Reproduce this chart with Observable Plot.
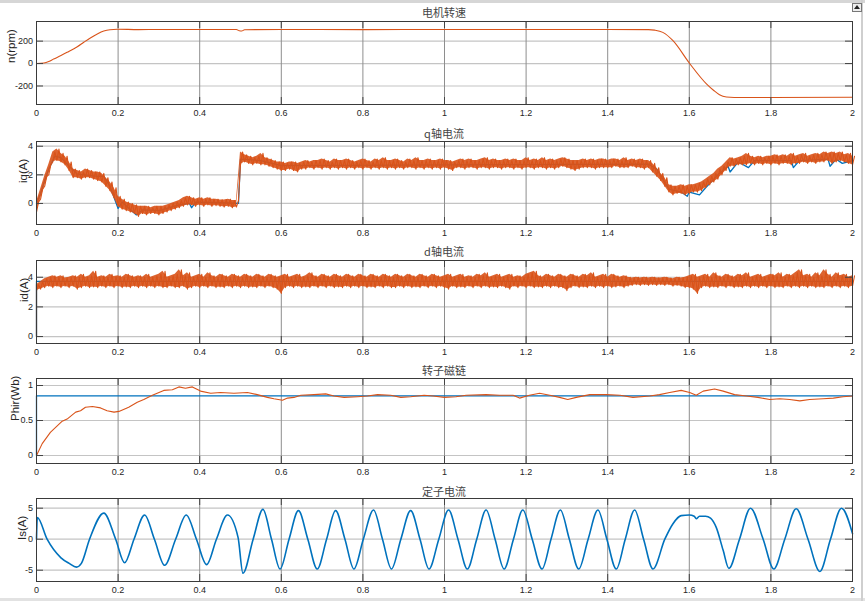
<!DOCTYPE html>
<html><head><meta charset="utf-8">
<script src="https://cdn.jsdelivr.net/npm/d3@7"></script>
<script src="https://cdn.jsdelivr.net/npm/@observablehq/plot@0.6"></script>
<style>
html,body{margin:0;padding:0;background:#fff;}
#fig{position:relative;width:865px;height:601px;background:#fff;overflow:hidden;}
.title{position:absolute;left:36px;width:816px;text-align:center;font-family:"Noto Sans CJK SC",sans-serif;font-size:11px;line-height:14px;color:#444;}
.pan{position:absolute;left:0;}
#topbar{position:absolute;left:0;top:0;width:865px;height:3px;background:#d6d6d6;}
#botbar{position:absolute;left:0;top:598px;width:865px;height:3px;background:#e2e2e2;}
#rbar{position:absolute;left:861px;top:0;width:2px;height:601px;background:#cfcfcf;}
#icon{position:absolute;left:852px;top:3px;width:8px;height:7px;border:1px solid #777;background:#eee;}
#icon:after{content:"";position:absolute;left:1px;top:1px;border-left:3px solid transparent;border-right:3px solid transparent;border-bottom:4px solid #222;}
</style>
</head><body>
<div id="fig">
<div id="topbar"></div><div id="botbar"></div><div id="rbar"></div><div id="icon"></div>
</div>
<script>
// ---------- data ----------
const titles = ["电机转速", "q轴电流", "d轴电流", "转子磁链", "定子电流"];
const yLabels = ["n(rpm)", "iq(A)", "id(A)", "Phir(Wb)", "Is(A)"];
const xTicks = [0, 0.2, 0.4, 0.6, 0.8, 1, 1.2, 1.4, 1.6, 1.8, 2];
const yTicks1 = [-200, 0, 200];
const yTicks2 = [0, 2, 4];
const yTicks3 = [0, 2, 4];
const yTicks4 = [0, 0.5, 1];
const yTicks5 = [-5, 0, 5];

// speed
const spT = [0,0.018,0.03,0.042,0.06,0.075,0.1,0.116,0.13,0.149,0.165,0.18,0.198,0.25,0.3,0.4,0.49,0.497,0.503,0.51,0.6,0.8,1.0,1.2,1.4,1.5,1.515,1.535,1.56,1.6,1.642,1.66,1.674,1.691,1.71,1.8,2.0];
const spV = [0,5,18,40,72,100,150,190,224,264,290,302,306,303,304,304,304,292,290,302,304,303,304,304,304,303,298,278,204,5,-181,-240,-278,-298,-302,-302,-301];

// sampling grid of the noisy bands (0.01 s)
const tBand = d3.range(201).map(i => i / 100);

// iq band (lower / upper edge of noisy trace)
const iqLo = [-0.6,0.3,1.2,2.0,2.9,3.0,2.9,2.7,2.3,1.8,
 1.8,1.7,1.8,1.8,1.7,1.6,1.5,1.2,0.9,0.4,
 -0.2,-0.4,-0.5,-0.6,-0.7,-0.9,-0.7,-0.8,-0.7,-0.7,
 -0.8,-0.7,-0.6,-0.5,-0.4,-0.3,-0.2,-0.1,-0.1,-0.2,
 -0.1,-0.2,-0.1,-0.2,-0.15,-0.2,-0.25,-0.2,-0.3,-0.25,
 2.7,2.9,2.8,2.7,2.8,2.7,2.7,2.6,2.5,2.4,
 2.3,2.3,2.4,2.3,2.2,2.4,2.4,2.5,2.4,2.5,
 2.4,2.5,2.4,2.5,2.4,2.5,2.4,2.5,2.4,2.5,
 2.4,2.5,2.4,2.5,2.4,2.5,2.4,2.5,2.4,2.5,
 2.4,2.5,2.5,2.4,2.5,2.4,2.5,2.4,2.5,2.4,
 2.5,2.4,2.3,2.5,2.5,2.4,2.5,2.5,2.4,2.5,
 2.5,2.4,2.5,2.5,2.4,2.5,2.5,2.4,2.5,2.4,
 2.5,2.5,2.4,2.5,2.5,2.4,2.5,2.4,2.5,2.6,
 2.5,2.4,2.3,2.4,2.5,2.5,2.5,2.4,2.5,2.5,
 2.5,2.5,2.6,2.5,2.5,2.5,2.6,2.5,2.5,2.4,
 2.5,2.2,1.9,1.6,1.2,0.8,0.6,0.7,0.7,0.6,
 0.7,0.8,0.8,0.9,1.1,1.3,1.5,1.7,2.0,2.3,
 2.6,2.6,2.7,2.7,2.7,2.8,2.7,2.8,2.7,2.8,
 2.7,2.8,2.7,2.8,2.8,2.7,2.8,2.8,2.9,2.8,
 2.9,2.8,2.9,2.9,3.0,2.8,2.9,3.0,2.9,2.8,
 2.7];
const iqHi = [0.1,1.0,1.9,2.7,3.6,3.8,3.5,3.3,2.9,2.4,
 2.3,2.2,2.4,2.3,2.2,2.2,2.1,1.8,1.5,1.1,
 0.5,0.3,0.1,0.0,-0.1,-0.2,-0.2,-0.2,-0.3,-0.2,
 -0.2,-0.2,-0.1,0.0,0.1,0.2,0.4,0.5,0.4,0.3,
 0.4,0.3,0.4,0.3,0.3,0.25,0.25,0.3,0.2,0.2,
 3.6,3.4,3.3,3.2,3.3,3.5,3.2,3.1,3.0,2.9,
 2.9,2.8,2.9,2.9,2.8,2.9,3.0,2.9,3.0,3.0,
 3.1,3.0,2.9,3.1,3.0,3.0,3.1,3.0,2.9,3.0,
 3.1,3.0,2.9,3.1,3.0,3.2,3.0,3.0,3.1,3.0,
 2.9,3.1,3.0,3.2,3.0,3.0,3.1,3.0,3.0,3.1,
 3.0,3.0,2.9,3.0,3.1,3.0,3.1,3.0,3.0,3.1,
 3.2,3.0,3.1,3.0,3.0,3.1,3.0,3.1,3.0,3.0,
 3.2,3.0,3.1,3.0,3.2,3.0,3.1,3.0,3.1,3.2,
 3.1,3.0,3.0,3.0,3.1,3.0,3.1,3.0,3.1,3.1,
 3.0,3.1,3.1,3.0,3.2,3.0,3.1,3.0,3.1,3.0,
 3.0,2.8,2.5,2.1,1.8,1.3,1.2,1.2,1.3,1.2,
 1.3,1.3,1.4,1.5,1.7,1.9,2.1,2.4,2.6,2.9,
 3.2,3.1,3.2,3.3,3.5,3.3,3.2,3.3,3.2,3.3,
 3.3,3.4,3.3,3.4,3.3,3.5,3.3,3.4,3.5,3.3,
 3.4,3.5,3.4,3.6,3.5,3.6,3.5,3.6,3.4,3.5,
 3.3];

// iq reference (blue), visible where it leaves the band
const iqRefT = [0,0.01,0.02,0.03,0.045,0.06,0.08,0.1,0.15,0.165,0.18,0.2,0.21,0.225,0.245,0.26,0.3,0.35,0.375,0.38,0.39,0.45,0.495,0.5,0.55,0.6,1.5,1.52,1.55,1.58,1.595,1.6,1.625,1.64,1.67,1.695,1.70,1.72,1.745,1.76,1.85,1.855,1.87,1.94,1.945,1.96,1.975,2.0];
const iqRefV = [0,0.7,1.6,2.4,3.3,3.2,2.6,2.05,1.9,1.9,1.2,-0.35,0.1,-0.3,-0.8,-0.45,-0.5,-0.1,0.0,-0.3,0.1,0.05,0.0,3.1,3.0,2.65,2.75,2.4,1.0,0.8,0.5,0.8,0.6,1.1,2.0,2.6,2.2,2.9,2.5,3.0,3.0,2.5,3.0,3.1,2.6,3.1,2.8,3.0];

// id band
const idLo = [3.1,3.2,3.3,3.4,3.3,3.4,3.3,3.4,3.3,3.4,
 3.2,3.3,3.4,3.3,3.35,3.3,3.4,3.3,3.4,3.3,
 3.4,3.3,3.35,3.3,3.4,3.3,3.4,3.3,3.4,3.3,
 3.4,3.3,3.3,3.4,3.3,3.3,3.4,3.2,3.3,3.4,
 3.3,3.4,3.3,3.4,3.3,3.35,3.3,3.4,3.3,3.4,
 3.3,3.4,3.3,3.35,3.3,3.4,3.3,3.4,3.3,3.2,
 2.9,3.3,3.4,3.3,3.4,3.3,3.35,3.3,3.4,3.3,
 3.4,3.3,3.4,3.3,3.35,3.3,3.4,3.3,3.4,3.3,
 3.4,3.3,3.35,3.3,3.4,3.3,3.4,3.3,3.3,3.4,
 3.3,3.4,3.3,3.35,3.3,3.4,3.3,3.4,3.3,3.4,
 3.3,3.2,3.4,3.3,3.35,3.3,3.4,3.3,3.4,3.3,
 3.4,3.3,3.35,3.3,3.4,3.3,3.2,3.4,3.3,3.4,
 3.3,3.4,3.3,3.35,3.3,3.4,3.3,3.4,3.3,3.3,
 3.1,3.3,3.4,3.3,3.35,3.3,3.4,3.3,3.4,3.3,
 3.4,3.3,3.35,3.4,3.3,3.4,3.45,3.5,3.45,3.5,
 3.45,3.5,3.45,3.5,3.45,3.5,3.4,3.45,3.4,3.3,
 3.3,3.2,2.9,3.3,3.4,3.3,3.35,3.3,3.4,3.3,
 3.4,3.3,3.35,3.3,3.4,3.3,3.4,3.3,3.4,3.3,
 3.4,3.3,3.35,3.3,3.4,3.3,3.4,3.3,3.4,3.3,
 3.4,3.3,3.35,3.3,3.4,3.3,3.4,3.3,3.4,3.3,
 3.4];
const idHi = [3.5,3.7,3.9,4.0,4.1,4.0,4.1,3.95,4.0,4.1,
 4.0,4.2,4.0,4.1,4.4,4.0,4.1,4.0,4.2,4.05,
 4.1,4.0,4.2,4.1,4.0,4.1,4.0,4.2,4.0,4.1,
 4.2,4.4,4.0,4.1,4.2,4.5,4.1,4.3,4.0,4.1,
 4.2,4.0,4.3,4.1,4.0,4.2,4.1,4.0,4.2,4.1,
 4.0,4.2,4.1,4.0,4.2,4.1,4.0,4.2,4.1,4.0,
 4.1,4.2,4.0,4.1,4.2,4.0,4.1,4.3,4.1,4.0,
 4.2,4.1,4.0,4.2,4.1,4.0,4.2,4.1,4.0,4.2,
 4.1,4.0,4.2,4.1,4.0,4.2,4.1,4.0,4.2,4.1,
 4.0,4.2,4.1,4.0,4.2,4.1,4.0,4.2,4.1,4.0,
 4.1,4.2,4.0,4.1,4.2,4.0,4.1,4.0,4.2,4.1,
 4.3,4.0,4.1,4.2,4.0,4.1,4.2,4.0,4.1,4.0,
 4.2,4.3,4.4,4.1,4.0,4.2,4.1,4.0,4.2,4.1,
 4.0,4.2,4.1,4.0,4.2,4.1,4.3,4.0,4.1,4.2,
 4.0,4.2,4.1,4.0,4.1,4.0,3.95,4.0,3.95,4.0,
 3.95,4.0,3.95,3.95,4.0,3.95,3.9,4.0,3.95,4.0,
 4.1,4.2,4.0,4.1,4.2,4.0,4.3,4.1,4.0,4.2,
 4.1,4.0,4.2,4.1,4.3,4.0,4.1,4.2,4.0,4.1,
 4.2,4.1,4.3,4.0,4.2,4.1,4.3,4.5,4.1,4.2,
 4.0,4.3,4.1,4.5,4.2,4.0,4.3,4.1,4.2,4.0,
 4.1];
const idStartT = [0, 0];
const idStartV = [0, 3.5];
const idRefT = [0, 0, 2];
const idRefV = [0, 3.72, 3.72];

// rotor flux
const phT = [0,0.014,0.034,0.063,0.075,0.096,0.108,0.12,0.137,0.157,0.173,0.19,0.202,0.226,0.247,0.263,0.284,0.312,0.333,0.349,0.365,0.382,0.402,0.427,0.451,0.484,0.517,0.541,0.566,0.582,0.603,0.615,0.631,0.648,0.68,0.709,0.729,0.754,0.787,0.811,0.836,0.868,0.893,0.917,0.95,0.972,1.0,1.028,1.053,1.102,1.135,1.168,1.184,1.208,1.233,1.258,1.282,1.302,1.323,1.356,1.397,1.43,1.462,1.503,1.527,1.552,1.58,1.601,1.617,1.634,1.662,1.683,1.711,1.74,1.768,1.797,1.822,1.846,1.871,1.895,1.928,1.953,1.977,2.0];
const phV = [0,0.17,0.33,0.49,0.52,0.62,0.64,0.69,0.70,0.68,0.64,0.62,0.63,0.69,0.76,0.80,0.86,0.93,0.94,0.98,0.96,0.98,0.92,0.89,0.90,0.89,0.90,0.87,0.83,0.81,0.79,0.82,0.83,0.86,0.87,0.88,0.85,0.83,0.84,0.85,0.87,0.86,0.83,0.84,0.86,0.85,0.83,0.84,0.86,0.87,0.86,0.86,0.82,0.86,0.89,0.86,0.83,0.80,0.83,0.87,0.87,0.86,0.83,0.85,0.87,0.90,0.93,0.90,0.86,0.92,0.95,0.92,0.87,0.85,0.83,0.80,0.81,0.80,0.78,0.80,0.81,0.82,0.84,0.85];
const phRefT = [0, 0, 2];
const phRefV = [0, 0.853, 0.853];

// stator current
const isT = [0,0.002,0.026,0.06,0.08,0.098,0.11,0.13,0.165,0.194,0.216,0.239,0.265,0.289,0.314,0.341,0.367,0.392,0.417,0.441,0.468,0.494,0.506,0.531,0.555,0.576,0.597,0.619,0.642,0.665,0.688,0.711,0.733,0.756,0.778,0.801,0.826,0.848,0.870,0.893,0.917,0.940,0.962,0.986,1.010,1.033,1.056,1.079,1.102,1.124,1.146,1.169,1.192,1.215,1.239,1.261,1.284,1.306,1.329,1.352,1.376,1.398,1.421,1.443,1.466,1.488,1.511,1.54,1.56,1.58,1.60,1.612,1.617,1.625,1.64,1.652,1.666,1.683,1.697,1.723,1.750,1.781,1.807,1.834,1.862,1.891,1.920,1.946,1.973,2.0];
const isV = [0,3.5,0,-3.0,-3.9,-4.5,-3.9,0,4.2,0,-3.8,0,3.9,0,-4.2,0,3.9,0,-4.1,0,3.9,0.3,-5.5,0,4.8,0,-4.8,0,4.6,0,-4.8,0,4.6,0,-4.8,0,4.7,0,-4.8,0,4.6,0,-4.8,0,4.7,0,-4.8,0,4.7,0,-4.8,0,4.7,0,-4.8,0,4.7,0,-4.8,0,4.7,0,-4.8,0,4.7,0,-4.8,0,2.5,3.8,3.9,3.7,3.3,3.7,3.7,3.4,1.9,-1.8,-4.7,0,5.0,0,-4.8,0,4.9,0,-5.2,0,5.0,0.9];

// ---------- drawing ----------
const BLUE = "#0072BD", ORANGE = "#D95319";
const panels = [
  {top: 21, h: 83, domain: [-365, 375], ticks: yTicks1, labelX: 10.5, titleY: 5},
  {top: 141, h: 83, domain: [-1.47, 4.33], ticks: yTicks2, labelX: 22.5, titleY: 125.5},
  {top: 260, h: 83, domain: [-0.47, 5.13], ticks: yTicks3, labelX: 23.5, titleY: 244},
  {top: 378, h: 85, domain: [-0.114, 1.1], ticks: yTicks4, labelX: 14.5, titleY: 363},
  {top: 498, h: 83, domain: [-6.82, 6.56], ticks: yTicks5, labelX: 21.7, titleY: 484}
];
const W = 865, ML = 36, MR = 13, MT = 2, MB = 20, BW = W - ML - MR;
const idx = d3.range(tBand.length);
// zig-zag order through the band: lower edge at t, upper edge half a step later
const zig = idx.flatMap(i => [[i, 0], [i, 1]]);

function bandMarks(lo, hi) {
  return [
    Plot.areaY(idx, {x: i => tBand[i], y1: i => lo[i], y2: i => hi[i], fill: ORANGE, fillOpacity: 0.9}),
    Plot.line(zig, {x: ([i, s]) => tBand[i] + s * 0.005, y: ([i, s]) => s ? hi[i] : lo[i], stroke: ORANGE, strokeWidth: 1.1})
  ];
}

function dataMarks(k) {
  if (k === 0) return [
    Plot.line(spT.map((t, i) => i), {x: i => spT[i], y: i => spV[i], stroke: ORANGE, strokeWidth: 1.1, curve: "monotone-x"})
  ];
  if (k === 1) return [
    Plot.line(iqRefT.map((t, i) => i), {x: i => iqRefT[i], y: i => iqRefV[i], stroke: BLUE, strokeWidth: 1.3}),
    ...bandMarks(iqLo, iqHi)
  ];
  if (k === 2) return [
    Plot.line(idRefT.map((t, i) => i), {x: i => idRefT[i], y: i => idRefV[i], stroke: BLUE, strokeWidth: 1.3}),
    Plot.line(idStartT.map((t, i) => i), {x: i => idStartT[i], y: i => idStartV[i], stroke: ORANGE, strokeWidth: 1.2}),
    ...bandMarks(idLo, idHi)
  ];
  if (k === 3) return [
    Plot.line(phRefT.map((t, i) => i), {x: i => phRefT[i], y: i => phRefV[i], stroke: BLUE, strokeWidth: 1.3}),
    Plot.line(phT.map((t, i) => i), {x: i => phT[i], y: i => phV[i], stroke: ORANGE, strokeWidth: 1.1})
  ];
  return [
    Plot.line(isT.map((t, i) => i), {x: i => isT[i], y: i => isV[i], stroke: BLUE, strokeWidth: 1.6, curve: "monotone-x"})
  ];
}

const fig = document.getElementById("fig");
panels.forEach((p, k) => {
  const chart = Plot.plot({
    width: W, height: p.h + MT + MB,
    marginLeft: ML, marginRight: MR, marginTop: MT, marginBottom: MB,
    style: {fontFamily: "'Liberation Sans', Arial, sans-serif", fontSize: "9px", color: "#262626", background: "transparent", overflow: "visible"},
    x: {domain: [0, 2], ticks: xTicks, tickFormat: d => String(d), tickSize: 0, tickPadding: 5, label: null},
    y: {domain: p.domain, ticks: p.ticks, tickFormat: d => String(d), tickSize: 0, tickPadding: 3.5, label: null},
    marks: [
      Plot.ruleY(p.ticks, {stroke: "#c4c4c4", strokeWidth: 1.2}),
      Plot.ruleX(xTicks, {stroke: "#8e8e8e", strokeWidth: 1}),
      ...dataMarks(k),
      Plot.ruleX(xTicks, {stroke: "#444", insetBottom: p.h - 7}),
      Plot.ruleX(xTicks, {stroke: "#444", insetTop: p.h - 7}),
      Plot.ruleY(p.ticks, {stroke: "#444", insetRight: BW - 7}),
      Plot.ruleY(p.ticks, {stroke: "#444", insetLeft: BW - 7}),
      Plot.frame({stroke: "#3a3a3a", strokeWidth: 1}),
      Plot.text([yLabels[k]], {frameAnchor: "left", dx: -(ML - p.labelX), rotate: -90, fontSize: 11.5, fill: "#262626"})
    ]
  });
  const holder = document.createElement("div");
  holder.className = "pan";
  holder.style.top = (p.top - MT) + "px";
  holder.appendChild(chart);
  fig.appendChild(holder);
  const t = document.createElement("div");
  t.className = "title";
  t.style.top = p.titleY + "px";
  t.textContent = titles[k];
  fig.appendChild(t);
});
</script>
</body></html>
